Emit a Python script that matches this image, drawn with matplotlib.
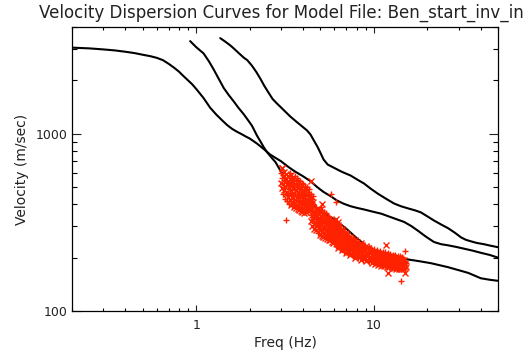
import numpy as np
import matplotlib
matplotlib.use('Agg')
import matplotlib.pyplot as plt
from matplotlib.ticker import LogLocator, NullFormatter, FixedLocator, FixedFormatter

# curve 1 (starts at low freq), Hz / m/s
freq_a = [0.2, 0.25, 0.3, 0.35, 0.4, 0.45, 0.5, 0.55, 0.6, 0.65, 0.7, 0.75, 0.8,
          0.85, 0.9, 0.95, 1.0, 1.05, 1.1, 1.15, 1.2, 1.3, 1.4, 1.5, 1.6, 1.7,
          1.8, 1.9, 2.0, 2.2, 2.4, 2.6, 2.8, 3.0, 3.3, 3.6, 4.0, 4.4, 4.8, 5.2,
          5.7, 6.2, 6.8, 7.4, 8.0, 8.8, 9.8, 11.0, 12.5, 14.8, 16.2, 17.6, 19.5,
          21.8, 24.0, 26.0, 29.0, 32.0, 36.0, 40.0, 45.0, 50.0]
vel_a = [3060, 3030, 2990, 2950, 2900, 2850, 2790, 2740, 2680, 2600, 2480, 2360, 2240,
         2110, 2000, 1900, 1790, 1685, 1590, 1490, 1400, 1280, 1190, 1115, 1062, 1025,
         995, 965, 940, 880, 820, 765, 730, 700, 650, 612, 575, 540, 500, 470,
         445, 420, 402, 390, 382, 374, 364, 354, 338, 318, 302, 285, 264,
         245, 238, 235, 230, 225, 219, 213, 207, 200]

# curve 2
freq_b = [0.925, 1.0, 1.1, 1.18, 1.25, 1.34, 1.43, 1.52, 1.62, 1.73, 1.85, 1.95,
          2.06, 2.13, 2.2, 2.3, 2.4, 2.51, 2.65, 2.8, 2.95, 3.1, 3.35, 3.67, 4.0,
          4.4, 5.0, 5.87, 6.95, 8.0, 9.25, 10.5, 11.7, 13.5, 15.2, 18.0, 21.0,
          26.0, 30.0, 34.0, 40.0, 45.0, 50.0]
vel_b = [3330, 3080, 2840, 2560, 2320, 2040, 1810, 1660, 1530, 1400, 1290, 1200,
         1110, 1040, 975, 905, 840, 785, 735, 690, 630, 581, 525, 478, 440,
         404, 365, 333, 293, 258, 229, 216, 209, 201, 196, 191, 186,
         177, 170, 164, 153, 150, 148]

# curve 3
freq_c = [1.366, 1.45, 1.55, 1.62, 1.75, 1.85, 1.94, 2.06, 2.18, 2.3, 2.42, 2.55,
          2.69, 2.83, 2.98, 3.18, 3.4, 3.7, 3.97, 4.2, 4.4, 4.6, 4.83, 5.03, 5.22,
          5.5, 5.94, 6.6, 7.4, 8.1, 8.8, 9.6, 10.5, 11.7, 13.0, 14.2, 15.6, 17.0,
          18.4, 20.0, 21.8, 24.0, 26.2, 28.5, 31.0, 33.0, 35.3, 38.0, 41.8, 45.0, 50.0]
vel_c = [3462, 3320, 3160, 3040, 2830, 2690, 2600, 2420, 2230, 2040, 1860, 1710,
         1573, 1490, 1418, 1330, 1246, 1160, 1095, 1045, 990, 915, 840, 772, 714,
         670, 644, 610, 581, 550, 524, 490, 460, 430, 404, 390, 379, 370,
         360, 342, 324, 307, 293, 277, 260, 252, 247, 242, 238, 234, 229]

# picked dispersion points: frequency (Hz) and the velocities (m/s) picked at it
pick_cols = [
    (3.00, [530, 600]), (3.04, [495, 565, 640]), (3.08, [455, 520, 585]), (3.12, [480, 545, 610]),
    (3.16, [430, 500, 560]), (3.20, [455, 525, 590]), (3.24, [415, 470, 540]), (3.28, [440, 505, 575]),
    (3.32, [400, 460, 520]), (3.36, [425, 490, 555, 600]), (3.40, [395, 450, 510]),
    (3.44, [420, 475, 535, 585]), (3.48, [390, 440, 500, 560]), (3.52, [410, 465, 525]),
    (3.56, [385, 430, 490, 550]), (3.60, [400, 455, 515, 575]), (3.64, [380, 425, 480, 540]),
    (3.68, [395, 445, 505, 560]), (3.72, [375, 420, 470, 530]), (3.76, [390, 440, 495, 550]),
    (3.80, [370, 410, 460, 520]), (3.84, [385, 435, 485, 540]), (3.88, [365, 405, 455, 510]),
    (3.92, [380, 425, 475, 530]), (3.96, [360, 400, 445, 500]), (4.00, [375, 420, 465, 520]),
    (4.05, [355, 395, 440, 490]), (4.10, [370, 410, 455, 510]), (4.15, [360, 390, 430, 480]),
    (4.20, [375, 405, 450, 500]), (4.26, [365, 395, 425, 470]), (4.32, [380, 410, 445, 490]),
    (4.38, [370, 400, 435]), (4.44, [385, 420, 460]), (4.50, [395, 430]), (4.56, [410, 445]),
    (4.42, [320, 350]), (4.48, [300, 340, 375]), (4.54, [330, 360, 395]), (4.60, [290, 315, 350]),
    (4.66, [305, 335, 370]), (4.72, [285, 320, 350, 385]), (4.78, [300, 330, 360]),
    (4.84, [275, 310, 340, 375]), (4.90, [290, 320, 355]), (4.96, [270, 300, 330, 365]),
    (5.02, [285, 315, 345, 385]), (5.08, [265, 295, 325, 355]), (5.14, [280, 305, 340, 370]),
    (5.20, [260, 290, 320, 350]), (5.26, [275, 300, 330, 360]), (5.32, [258, 285, 312, 345]),
    (5.38, [270, 295, 325, 355]), (5.44, [255, 280, 305, 335]), (5.50, [265, 290, 318, 345]),
    (5.56, [252, 275, 300, 328]), (5.62, [262, 285, 310, 338]), (5.68, [250, 272, 295, 322]),
    (5.74, [258, 280, 305, 330]), (5.80, [246, 268, 290, 315]), (5.86, [255, 276, 300, 322]),
    (5.92, [243, 264, 285, 308]), (5.98, [252, 272, 295, 318]), (6.09, [290, 312, 330]),
    (6.25, [296, 318]),
    (6.05, [238, 258, 280, 302]), (6.13, [232, 250, 270, 290, 310]), (6.21, [240, 262, 284, 305]),
    (6.29, [228, 246, 266, 288, 306]), (6.37, [236, 255, 276, 298]),
    (6.45, [224, 242, 260, 280, 300]), (6.53, [232, 250, 270, 292]),
    (6.62, [220, 238, 255, 275, 292]), (6.71, [228, 245, 264, 284]),
    (6.80, [216, 233, 250, 268, 284]), (6.89, [224, 240, 258, 276]),
    (6.98, [212, 229, 245, 262, 276]), (7.08, [220, 236, 252, 268]),
    (7.18, [209, 225, 240, 256, 270]), (7.28, [216, 232, 248, 262]),
    (7.38, [206, 220, 235, 250, 263]), (7.50, [212, 227, 242, 256]),
    (7.62, [203, 216, 231, 246, 258]), (7.75, [209, 223, 238, 251]),
    (7.88, [200, 213, 227, 241, 252]), (8.01, [206, 219, 233, 246]),
    (8.15, [198, 210, 223, 236, 246]), (8.29, [203, 216, 229, 240]),
    (8.44, [195, 207, 220, 232, 241]), (8.59, [200, 213, 226, 236]),
    (8.74, [193, 204, 216, 228, 236]), (8.90, [198, 210, 222, 232]),
    (9.06, [191, 202, 213, 225, 232]), (9.22, [196, 207, 219, 228]),
    (9.40, [188, 199, 211, 222, 230]), (9.60, [193, 204, 216, 226]), (9.80, [186, 197, 208, 219]),
    (10.0, [191, 202, 213, 223]), (10.2, [184, 195, 206, 216]), (10.4, [189, 200, 211, 221]),
    (10.6, [182, 193, 203, 214]), (10.8, [187, 198, 208, 218]), (11.0, [180, 191, 201, 212]),
    (11.2, [185, 196, 206, 216]), (11.4, [179, 189, 199, 209]), (11.6, [184, 194, 204, 214]),
    (11.8, [178, 188, 198, 208]), (12.0, [182, 192, 202, 212]), (12.2, [176, 186, 196, 206]),
    (12.4, [181, 191, 201, 210]), (12.6, [175, 185, 194, 204]), (12.8, [180, 190, 199, 208]),
    (13.0, [174, 183, 193, 203]), (13.2, [178, 188, 197, 206]), (13.4, [173, 182, 191, 201]),
    (13.6, [177, 187, 196, 204]), (13.8, [172, 181, 190, 200]), (14.0, [176, 186, 195, 203]),
    (14.2, [172, 180, 189, 198]), (14.4, [176, 185, 194, 201]), (14.6, [173, 181, 190, 198]),
    (14.8, [177, 186, 194]), (15.0, [174, 183, 191]), (15.2, [178, 187]),
]
# isolated picks away from the main cloud
pick_extra = [(3.05, 642), (3.22, 324), (4.41, 544), (5.72, 458), (5.13, 403),
              (6.10, 411), (11.69, 235), (14.97, 218), (11.95, 164), (14.2, 148), (15.0, 163)]

picks = np.array([(f, v) for f, vs in pick_cols for v in vs] + pick_extra)

red = '#ff2200'

fig = plt.figure(figsize=(5.23, 3.52), dpi=100)
ax = fig.add_axes([72 / 523, 1 - 311 / 352, 426 / 523, 284 / 352])

for f, v in [(freq_a, vel_a), (freq_b, vel_b), (freq_c, vel_c)]:
    ax.plot(f, v, color='black', lw=1.5, solid_capstyle='round', solid_joinstyle='round')

ax.plot(picks[::2, 0], picks[::2, 1], 'x', color=red, ms=4.5, mew=1.0)
ax.plot(picks[1::2, 0], picks[1::2, 1], '+', color=red, ms=5, mew=1.0)

ax.set_xscale('log')
ax.set_yscale('log')
ax.set_xlim(0.2, 50)
ax.set_ylim(100, 4000)

ax.xaxis.set_major_locator(FixedLocator([1, 10]))
ax.xaxis.set_major_formatter(FixedFormatter(['1', '10']))
ax.xaxis.set_minor_locator(LogLocator(base=10, subs=np.arange(2, 10)))
ax.xaxis.set_minor_formatter(NullFormatter())
ax.yaxis.set_major_locator(FixedLocator([100, 1000]))
ax.yaxis.set_major_formatter(FixedFormatter(['100', '1000']))
ax.yaxis.set_minor_locator(LogLocator(base=10, subs=np.arange(2, 10)))
ax.yaxis.set_minor_formatter(NullFormatter())

ax.tick_params(axis='x', which='major', direction='in', length=4.5, width=0.8,
               top=True, labelsize=9, pad=6, colors='#222222')
ax.tick_params(axis='x', which='minor', direction='in', length=2.3, width=0.8, top=True)
ax.tick_params(axis='y', which='major', direction='in', length=6.5, width=0.8,
               right=True, labelsize=9, pad=3, colors='#222222')
ax.tick_params(axis='y', which='minor', direction='in', length=3.4, width=0.8, right=True)
for s in ax.spines.values():
    s.set_linewidth(0.9)

ax.set_xlabel('Freq (Hz)', fontsize=10, color='#222222', labelpad=3)
ax.set_ylabel('Velocity (m/sec)', fontsize=10, color='#222222', labelpad=5)

fig.text(39 / 523, 1 - 13 / 352, 'Velocity Dispersion Curves for Model File: Ben_start_inv_in',
         fontsize=12, color='#222222', ha='left', va='center')

fig.savefig('out.png', dpi=100)
